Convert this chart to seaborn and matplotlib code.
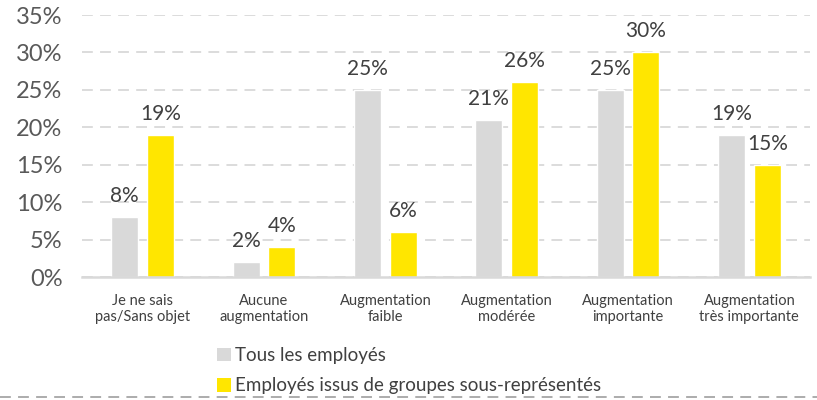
import numpy as np
import pandas as pd
import matplotlib
matplotlib.use("Agg")
import matplotlib.pyplot as plt
from matplotlib.patches import Patch
from matplotlib.lines import Line2D
import seaborn as sns

sns.set_style("white")
plt.rcParams['font.family'] = ['Lato', 'DejaVu Sans']

categories = ["Je ne sais\npas/Sans objet", "Aucune\naugmentation", "Augmentation\nfaible",
              "Augmentation\nmodérée", "Augmentation\nimportante", "Augmentation\ntrès importante"]
series = ["Tous les employés", "Employés issus de groupes sous-représentés"]
tous = [8, 2, 25, 21, 25, 19]
groupes = [19, 4, 6, 26, 30, 15]
colors = ["#D9D9D9", "#FFE600"]

df = pd.DataFrame({
    "cat": categories * 2,
    "serie": [series[0]] * 6 + [series[1]] * 6,
    "val": tous + groupes,
})

fig = plt.figure(figsize=(8.17, 4.0), dpi=100)
ax = fig.add_axes([82 / 817, 1 - 277 / 400, 728 / 817, 262 / 400])

sns.barplot(data=df, x="cat", y="val", hue="serie", palette=colors, width=0.59, gap=0.25,
            ax=ax, legend=False, saturation=1, errorbar=None)

ax.set_ylim(0, 35)
ax.set_xlim(-0.5, 5.5)
ax.set_yticks(range(0, 36, 5))
ax.set_yticklabels([f"{t}%" for t in range(0, 36, 5)])
ax.set_xlabel("")
ax.set_ylabel("")
ax.grid(axis="y", color="#D9D9D9", linestyle=(0, (6, 4)), linewidth=1.3)
ax.set_axisbelow(True)
for s in ["top", "right", "left"]:
    ax.spines[s].set_visible(False)
ax.spines["bottom"].set_color("#D9D9D9")
ax.spines["bottom"].set_linewidth(1.8)
ax.tick_params(axis="y", length=0, pad=14, labelsize=17, labelcolor="#595959")
ax.tick_params(axis="x", length=0, pad=12, labelsize=10.5, labelcolor="#404040")
for lab in ax.get_xticklabels():
    lab.set_linespacing(1.25)

for cont in ax.containers:
    ax.bar_label(cont, fmt="%d%%", padding=8, fontsize=15, color="#404040")

handles = [Patch(facecolor=c, edgecolor="none") for c in colors]
fig.legend(handles, series, loc="upper left", bbox_to_anchor=(208 / 817, 1 - 338 / 400),
           frameon=False, fontsize=13.5, handlelength=0.7, handleheight=0.7,
           handletextpad=0.25, labelspacing=0.7, borderpad=0, labelcolor="#404040")

fig.add_artist(Line2D([0, 1], [1 - 397 / 400] * 2, transform=fig.transFigure,
                      color="#A6A6A6", linewidth=1.3, linestyle=(0, (6, 4))))

fig.savefig("out.png", dpi=100)
